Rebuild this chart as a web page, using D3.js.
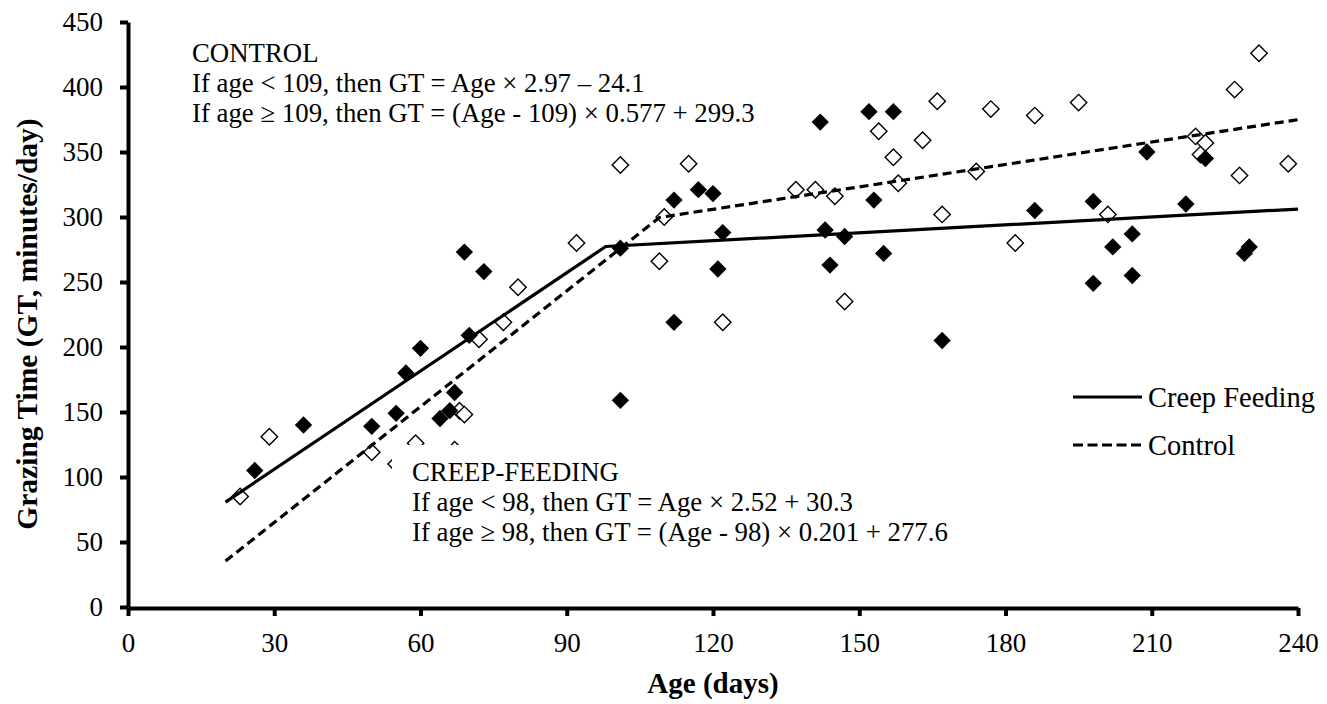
<!DOCTYPE html>
<html>
<head>
<meta charset="utf-8">
<script src="https://cdn.jsdelivr.net/npm/d3@7/dist/d3.min.js"></script>
<style>
  html, body { margin: 0; padding: 0; background: #fff; }
  svg { display: block; }
  text { font-family: "Liberation Serif", "Times New Roman", serif; fill: #000; }
</style>
</head>
<body>
<div id="chart"></div>
<script>
// ---- Data ----
const xTicks = [0, 30, 60, 90, 120, 150, 180, 210, 240];
const yTicks = [0, 50, 100, 150, 200, 250, 300, 350, 400, 450];

// Creep Feeding observations (filled diamonds)
const creepAge = [26,36,50,55,57,60,64,66,67,69,70,73,101,101,112,112,117,120,121,122,142,143,144,147,152,153,155,157,167,186,198,198,202,206,206,209,217,221,229,230];
const creepGT  = [105,140,139,149,180,199,145,151,165,273,209,258,276,159,313,219,321,318,260,288,373,290,263,285,381,313,272,381,205,305,312,249,277,287,255,350,310,345,272,277];

// Control observations (open diamonds)
const controlAge = [23,29,50,55,59,67,68,69,72,77,80,92,101,109,110,115,122,137,141,145,147,154,157,158,163,166,167,174,177,182,186,195,201,219,220,221,227,228,232,238];
const controlGT  = [85,131,119,110,126,121,151,148,206,219,246,280,340,266,300,341,219,321,321,316,235,366,346,326,359,389,302,335,383,280,378,388,302,362,348,357,398,332,426,341];

// Broken-line fits (breakpoints)
const creepLineAge = [20, 98, 240];
const creepLineGT  = [80.7, 277.3, 306.1];
const controlLineAge = [20, 109, 240];
const controlLineGT  = [35.3, 299.6, 374.9];

const legendLabels = ["Creep Feeding", "Control"];
const controlText = ["CONTROL", "If age < 109, then GT = Age \u00d7 2.97 \u2013 24.1", "If age \u2265 109, then GT = (Age - 109) \u00d7 0.577 + 299.3"];
const creepText = ["CREEP-FEEDING", "If age < 98, then GT = Age \u00d7 2.52 + 30.3", "If age \u2265 98, then GT = (Age - 98) \u00d7 0.201 + 277.6"];

// ---- Chart ----
const W = 1327, H = 704;
const svg = d3.select("#chart").append("svg").attr("width", W).attr("height", H);

const x = d3.scaleLinear().domain([0, 240]).range([128, 1298]);
const y = d3.scaleLinear().domain([0, 450]).range([607, 22]);

// Markers
const ctrlPts = controlAge.map((a, i) => [a, controlGT[i]]);
const creepPts = creepAge.map((a, i) => [a, creepGT[i]]);

svg.append("g").selectAll("path").data(ctrlPts).join("path")
  .attr("d", d3.symbol().type(d3.symbolSquare).size(135))
  .attr("transform", d => `translate(${x(d[0])},${y(d[1])}) rotate(45)`)
  .attr("fill", "#fff").attr("stroke", "#000").attr("stroke-width", 1.4);

svg.append("g").selectAll("path").data(creepPts).join("path")
  .attr("d", d3.symbol().type(d3.symbolSquare).size(150))
  .attr("transform", d => `translate(${x(d[0])},${y(d[1])}) rotate(45)`)
  .attr("fill", "#000");

// Fit lines
const line = d3.line().x(d => x(d[0])).y(d => y(d[1]));
svg.append("path")
  .datum(creepLineAge.map((a, i) => [a, creepLineGT[i]]))
  .attr("d", line).attr("fill", "none").attr("stroke", "#000")
  .attr("stroke-width", 3.2);
svg.append("path")
  .datum(controlLineAge.map((a, i) => [a, controlLineGT[i]]))
  .attr("d", line).attr("fill", "none").attr("stroke", "#000")
  .attr("stroke-width", 3.2).attr("stroke-dasharray", "9,5");

// Annotation boxes
function annot(lines, x0, y0, bx, by, bw, bh) {
  svg.append("rect").attr("x", bx).attr("y", by).attr("width", bw).attr("height", bh).attr("fill", "#fff");
  const t = svg.append("text").attr("font-size", 26.8);
  lines.forEach((s, i) => {
    t.append("tspan").attr("x", x0).attr("y", y0 + i * 30.2).text(s);
  });
}
annot(controlText, 192, 61.5, 186, 36, 590, 94);
annot(creepText, 412, 480.5, 392, 445, 572, 110);

// Axes
const xAxis = svg.append("g").attr("transform", `translate(0,${y(0) + 1})`)
  .call(d3.axisBottom(x).tickValues(xTicks).tickSize(8).tickSizeOuter(0).tickPadding(17));
const yAxis = svg.append("g").attr("transform", `translate(${x(0)},0)`)
  .call(d3.axisLeft(y).tickValues(yTicks).tickSize(8).tickSizeOuter(0).tickPadding(17));

[xAxis, yAxis].forEach(g => {
  g.select(".domain").attr("stroke", "#000").attr("stroke-width", 4);
  g.selectAll(".tick line").attr("stroke", "#000").attr("stroke-width", 4);
  g.selectAll(".tick text").attr("font-size", 27)
    .attr("font-family", "'Liberation Serif', 'Times New Roman', serif").attr("fill", "#000");
});

// Axis titles
svg.append("text").attr("x", 713).attr("y", 693).attr("text-anchor", "middle")
  .attr("font-size", 29).attr("font-weight", "bold").text("Age (days)");
svg.append("text").attr("transform", "translate(37,324) rotate(-90)").attr("text-anchor", "middle")
  .attr("font-size", 29.5).attr("font-weight", "bold").text("Grazing Time (GT, minutes/day)");

// Legend
const leg = svg.append("g");
const legY = [397, 445];
legendLabels.forEach((lab, i) => {
  leg.append("line").attr("x1", 1073).attr("x2", 1142).attr("y1", legY[i]).attr("y2", legY[i])
    .attr("stroke", "#000").attr("stroke-width", 3.2)
    .attr("stroke-dasharray", i === 1 ? "10,4.5" : null);
  leg.append("text").attr("x", 1148).attr("y", legY[i] + 10).attr("font-size", 28.5).text(lab);
});
</script>
</body>
</html>
